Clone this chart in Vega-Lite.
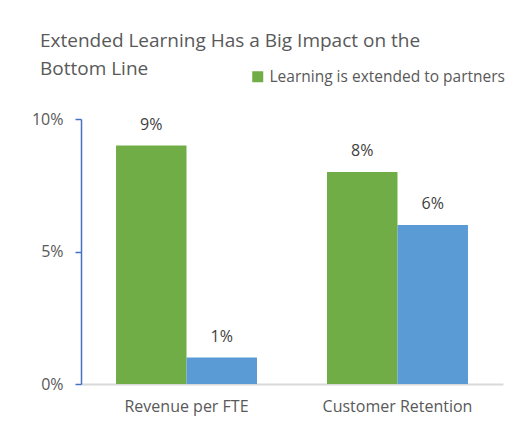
{
  "$schema": "https://vega.github.io/schema/vega-lite/v6.json",
  "width": 422,
  "height": 265,
  "autosize": {"type": "none"},
  "padding": {"left": 81, "top": 119, "right": 27, "bottom": 46},
  "background": "white",
  "title": {
    "text": ["Extended Learning Has a Big Impact on the", "Bottom Line"],
    "anchor": "start",
    "frame": "group",
    "dx": -41,
    "dy": 50,
    "fontSize": 19,
    "fontWeight": "normal",
    "font": "Open Sans",
    "color": "#595959",
    "lineHeight": 28,
    "offset": 40
  },
  "data": {
    "values": [
      {"measure": "Revenue per FTE", "group": "Learning is extended to partners", "value": 0.09},
      {"measure": "Revenue per FTE", "group": "Learning is not extended to partners", "value": 0.01},
      {"measure": "Customer Retention", "group": "Learning is extended to partners", "value": 0.08},
      {"measure": "Customer Retention", "group": "Learning is not extended to partners", "value": 0.06}
    ]
  },
  "encoding": {
    "x": {
      "field": "measure",
      "type": "nominal",
      "sort": ["Revenue per FTE", "Customer Retention"],
      "scale": {"paddingInner": 0.3318, "paddingOuter": 0.166},
      "axis": {
        "title": null,
        "labelAngle": 0,
        "ticks": false,
        "domainColor": "#d9d9d9",
        "domainWidth": 2,
        "labelFont": "Open Sans",
        "labelFontSize": 16,
        "labelColor": "#595959",
        "labelPadding": 14
      }
    },
    "xOffset": {
      "field": "group",
      "type": "nominal",
      "sort": ["Learning is extended to partners", "Learning is not extended to partners"],
      "scale": {"paddingInner": 0, "paddingOuter": 0}
    },
    "y": {
      "field": "value",
      "type": "quantitative",
      "scale": {"domain": [0, 0.1], "nice": false},
      "axis": {
        "title": null,
        "values": [0, 0.05, 0.1],
        "format": ".0%",
        "grid": false,
        "domainColor": "#4472C4",
        "domainWidth": 1.5,
        "tickColor": "#4472C4",
        "tickWidth": 1.5,
        "tickSize": 6,
        "labelPadding": 12,
        "labelFont": "Open Sans",
        "labelFontSize": 16,
        "labelColor": "#595959"
      }
    }
  },
  "layer": [
    {
      "mark": {"type": "bar"},
      "encoding": {
        "color": {
          "field": "group",
          "type": "nominal",
          "scale": {
            "domain": ["Learning is extended to partners", "Learning is not extended to partners"],
            "range": ["#70AD47", "#5B9BD5"]
          },
          "legend": {
            "title": null,
            "values": ["Learning is extended to partners"],
            "orient": "none",
            "legendX": 169,
            "legendY": -50,
            "symbolType": "square",
            "symbolSize": 121,
            "symbolStrokeWidth": 0,
            "labelFont": "Open Sans",
            "labelFontSize": 15.5,
            "labelLimit": 400,
            "labelColor": "#595959",
            "labelOffset": 4
          }
        }
      }
    },
    {
      "mark": {"type": "text", "baseline": "alphabetic", "dy": -16, "font": "Open Sans", "fontSize": 16, "color": "#404040"},
      "encoding": {
        "text": {"field": "value", "type": "quantitative", "format": ".0%"}
      }
    }
  ],
  "config": {"view": {"stroke": null}}
}
